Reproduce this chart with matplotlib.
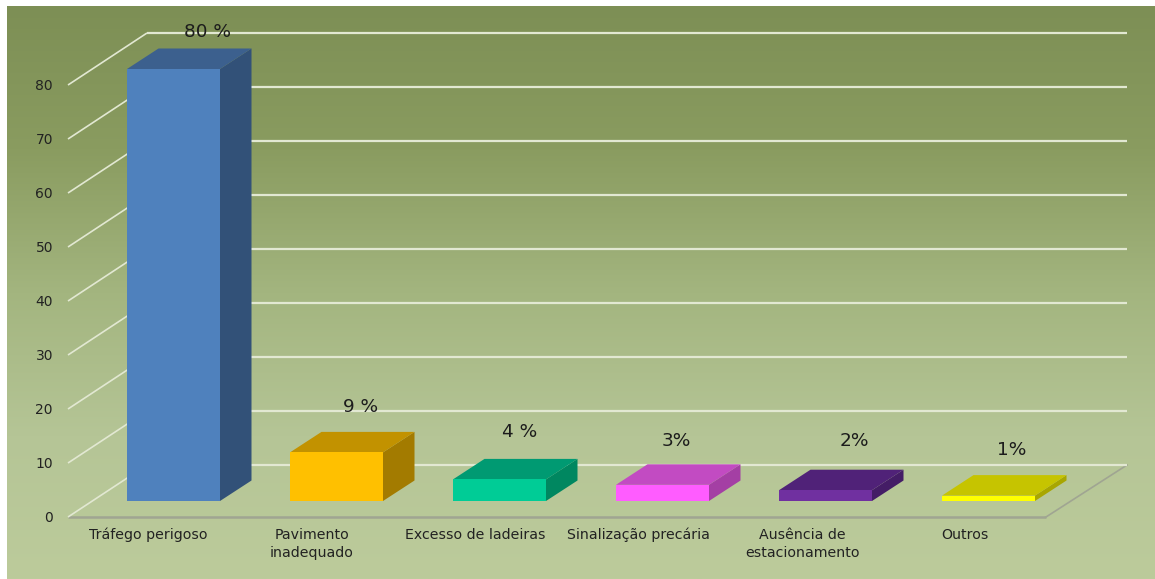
import numpy as np
import matplotlib
matplotlib.use("Agg")
import matplotlib.pyplot as plt
from matplotlib.patches import Polygon
from matplotlib.colors import LinearSegmentedColormap

categories = ["Tráfego perigoso", "Pavimento\ninadequado", "Excesso de ladeiras",
              "Sinalização precária", "Ausência de\nestacionamento", "Outros"]
values = [80, 9, 4, 3, 2, 1]
value_labels = ["80 %", "9 %", "4 %", "3%", "2%", "1%"]
front_colors = ["#4f81bd", "#ffc000", "#00cc96", "#ff5cff", "#7030a0", "#ffff00"]
top_colors = ["#3c608e", "#c29200", "#009a72", "#c24bc2", "#502278", "#c6c400"]
side_colors = ["#325178", "#a37b00", "#008760", "#a43fa4", "#441d66", "#a8a600"]
value_ticks = [0, 10, 20, 30, 40, 50, 60, 70, 80]

W, H = 1155, 579
ORIGIN = 517
PX_PER_UNIT = 5.4
BAR_STEP = 163
BAR_W = 93

fig = plt.figure(figsize=(W / 100, H / 100), dpi=100, facecolor="white")
ax = fig.add_axes([0, 0, 1, 1])
ax.axis("off")


def py(p):
    """Height in value units of a pixel row."""
    return (ORIGIN - p) / PX_PER_UNIT


def depth(x, v, dx, dy):
    return x + dx, v + dy / PX_PER_UNIT


# Panel background gradient
bg = LinearSegmentedColormap.from_list("panel", ["#7d8f55", "#8a9c60", "#a3b57f", "#b5c596", "#bccb9b"])
ax.imshow(np.linspace(0, 1, 256)[:, None], cmap=bg, aspect="auto", zorder=0,
          extent=(7, W, py(579), py(6)), vmin=0, vmax=1, interpolation="bilinear")
ax.set_xlim(0, W)
ax.set_ylim(py(579), py(0))

# Floor edges
FLOOR_L, FLOOR_R, WALL_DX, WALL_DY = 68, 1046, 79, 52
ax.plot([FLOOR_L, FLOOR_R], [0, 0], color="#a0a592", lw=1.8, zorder=1, solid_capstyle="butt")
ax.plot([FLOOR_R, FLOOR_R + WALL_DX + 2], [0, WALL_DY / PX_PER_UNIT], color="#a0a592", lw=1.2, zorder=1)

# Wall gridlines and their slanted continuation on the side wall
GRID = "#e2e8d2"
for t in value_ticks:
    bx, by = depth(FLOOR_L, t, WALL_DX, WALL_DY)
    ax.plot([FLOOR_L, bx], [t, by], color=GRID, lw=1.2, zorder=1, solid_capstyle="butt")
    ax.plot([bx, 1127], [by, by], color=GRID, lw=1.6, zorder=1, solid_capstyle="butt")
    ax.text(53, t - 1 / PX_PER_UNIT, str(t), ha="right", va="center", fontsize=10, color="#222222",
            fontfamily="DejaVu Sans", zorder=5)

# Extruded bars
BASE = py(501)
DX, DY = 31.5, 20.5
for i, (v, fc, tc, sc) in enumerate(zip(values, front_colors, top_colors, side_colors)):
    x0 = 127 + i * BAR_STEP
    x1 = x0 + BAR_W
    top = BASE + v
    d = DY / PX_PER_UNIT
    ax.add_patch(Polygon([(x1, BASE), (x1 + DX, BASE + d), (x1 + DX, top + d), (x1, top)],
                         fc=sc, ec="none", zorder=3))
    ax.add_patch(Polygon([(x0, top), (x1, top), (x1 + DX, top + d), (x0 + DX, top + d)],
                         fc=tc, ec="none", zorder=3))
    ax.bar(x0, v, width=BAR_W, bottom=BASE, align="edge", color=fc, zorder=4)

# Value labels above the bars
label_x = [207, 361, 520, 676, 854, 1012]
label_y = [32, 407, 432, 441, 441, 450]
for x, p, s in zip(label_x, label_y, value_labels):
    ax.text(x, py(p), s, ha="center", va="center", fontsize=13.3, color="#1c1c1c",
            fontfamily="DejaVu Sans", zorder=6)

# Category labels under the floor
cat_x = [148, 312, 475, 638.5, 802, 965]
for x, s in zip(cat_x, categories):
    ax.text(x, py(528), s, ha="center", va="top", fontsize=10.2, color="#222222",
            fontfamily="DejaVu Sans", linespacing=1.35, zorder=6)

fig.savefig("out.png", dpi=100, facecolor="white")
